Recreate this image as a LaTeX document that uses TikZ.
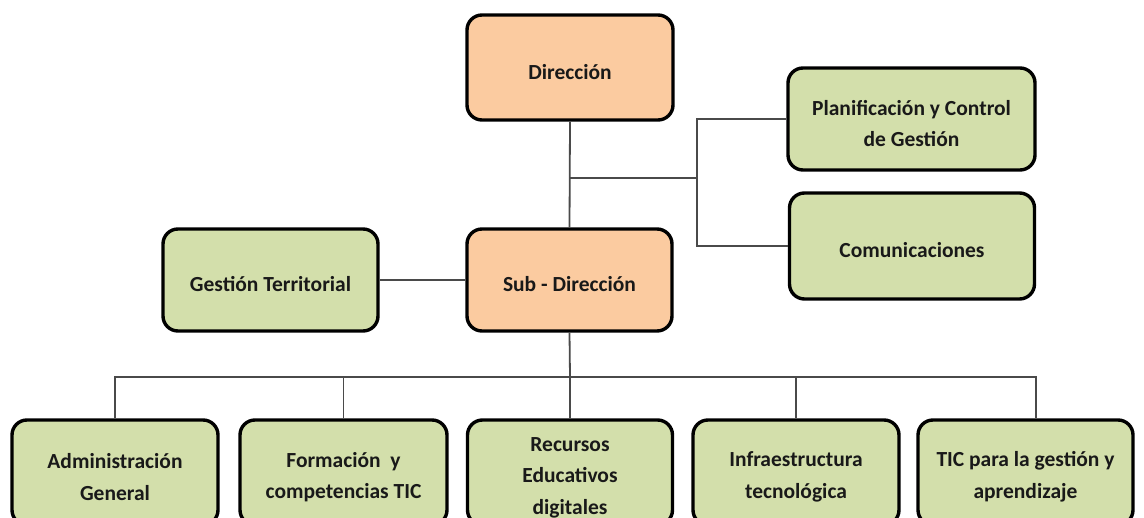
\documentclass[tikz,border=0pt]{standalone}
\usepackage{fontspec}
\setmainfont{Carlito}
\definecolor{peach}{HTML}{FBCBA0}
\definecolor{leaf}{HTML}{D3DFAB}
\definecolor{wire}{HTML}{4A4A4A}
% taller first line, so the text sits a little below the box centre
\newcommand{\firstline}{\rule{0pt}{24pt}}
\begin{document}
\begin{tikzpicture}[x=1pt,y=-1pt,
  unit/.style={draw=black, line width=3.4pt, rounded corners=15pt,
    align=center, inner sep=0pt, text=black!90,
    font=\bfseries\fontsize{21.5}{31.5}\selectfont},
  head/.style={unit, fill=peach},
  area/.style={unit, fill=leaf},
  link/.style={draw=wire, line width=1.8pt}]
\useasboundingbox (0,0) rectangle (1144,518);

% management
\node[head, minimum width=206pt, minimum height=105pt] (dir) at (570,67.5) {\firstline Dirección};
\node[head, minimum width=205pt, minimum height=102pt] (sub) at (569.5,280) {\firstline Sub - Dirección};

% staff units
\node[area, minimum width=247pt, minimum height=102pt] (plan) at (911.5,119) {\firstline Planificación y Control\\de Gestión};
\node[area, minimum width=245pt, minimum height=106pt] (com) at (912,246) {\firstline Comunicaciones};
\node[area, minimum width=215pt, minimum height=102pt] (gt) at (270.5,280) {\firstline Gestión Territorial};

% operational areas
\node[area, minimum width=206pt, minimum height=105pt] (adm) at (115,472.5) {\firstline Administración\\General};
\node[area, minimum width=207pt, minimum height=105pt] (form) at (343.5,472.5) {\firstline Formación~ y\\competencias TIC};
\node[area, minimum width=205pt, minimum height=105pt] (rec) at (570,472.5) {\firstline Recursos\\Educativos\\digitales};
\node[area, minimum width=206pt, minimum height=105pt] (inf) at (796,472.5) {\firstline Infraestructura\\tecnológica};
\node[area, minimum width=215pt, minimum height=105pt] (tic) at (1025.5,472.5) {\firstline TIC para la gestión y\\aprendizaje};

% connectors
\coordinate (rb) at (697,178);
\coordinate (bus) at (570,377);
\coordinate (ticdrop) at (1036,377);

\draw[link] (dir.south) -- (sub.north);
\draw[link] (dir.south |- rb) -- (rb);
\draw[link] (plan.west) -| (rb) |- (com.west);
\draw[link] (gt.east) -- (sub.west);

\draw[link] (sub.south) -- (bus) -- (rec.north);
\draw[link] (adm.north) |- (ticdrop) -- (ticdrop |- tic.north);
\draw[link] (form.north) -- (form.north |- bus);
\draw[link] (inf.north) -- (inf.north |- bus);
\end{tikzpicture}
\end{document}
